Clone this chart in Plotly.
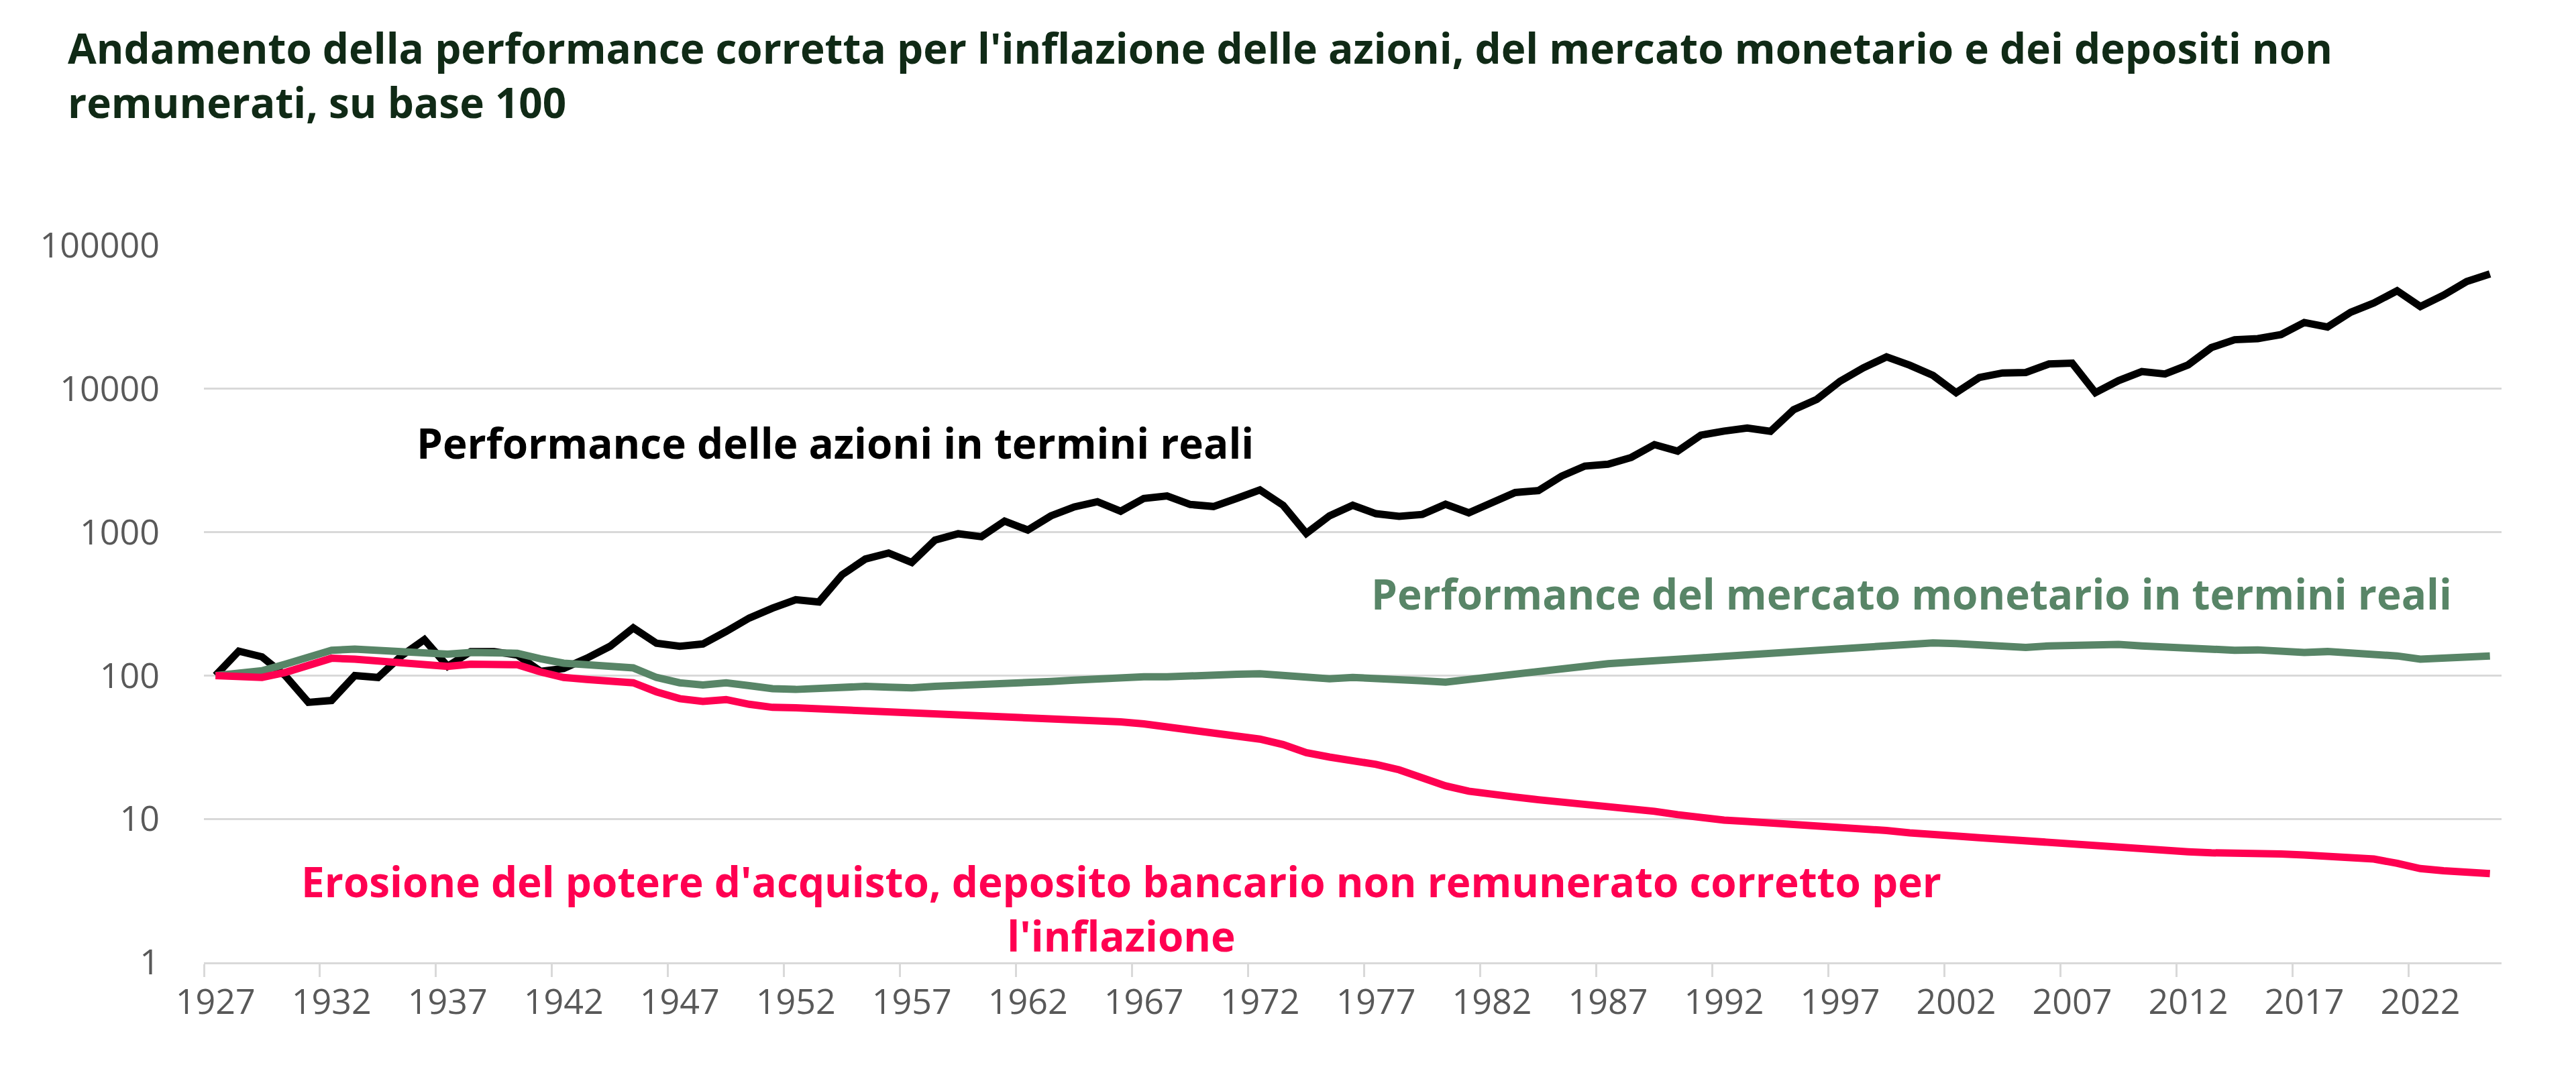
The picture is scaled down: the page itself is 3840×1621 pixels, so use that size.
import plotly.graph_objects as go

years = list(range(1927, 2026))

azioni = [100, 148, 135, 100, 65, 67, 100, 97, 137, 178,
          116, 147, 147, 139, 107, 112, 132, 160, 215, 168,
          160, 166, 203, 252, 295, 338, 326, 505, 650, 715,
          615, 880, 975, 930, 1195, 1035, 1300, 1500, 1630, 1400,
          1720, 1790, 1560, 1510, 1720, 1970, 1540, 980, 1300, 1540,
          1345, 1290, 1330, 1565, 1365, 1600, 1890, 1950, 2460, 2890,
          2980, 3320, 4080, 3670, 4750, 5070, 5330, 5050, 7150, 8450,
          11300, 14000, 16700, 14600, 12400, 9400, 12000, 12900, 13000, 14900,
          15100, 9400, 11400, 13200, 12700, 14700, 19400, 22000, 22400, 23900,
          29000, 27000, 34200, 39700, 48300, 37500, 45000, 56000, 63300]

monetario = [100, 104, 108, 120, 134, 150, 153, 151, 148, 145,
             141, 145, 146, 143, 131, 122, 119, 116, 113, 97,
             89, 86, 89, 85, 81, 80, 82, 83, 84, 83,
             82, 84, 85, 87, 88, 89, 91, 93, 95, 96,
             98, 98, 100, 101, 102, 103, 101, 97, 95, 97,
             96, 94, 92, 90, 94, 100, 103, 108, 113, 118,
             121, 124, 128, 131, 133, 136, 139, 142, 145, 149,
             153, 157, 161, 165, 169, 167, 164, 160, 157, 161,
             163, 167, 165, 161, 158, 155, 152, 150, 151, 148,
             145, 147, 145, 143, 137, 130, 131, 134, 137]

depositi = [100, 99, 97, 105, 118, 132, 130, 127, 125, 122,
            116, 120, 121, 119, 106, 97, 94, 92, 89, 77,
            69, 66, 68, 63, 60, 59.5, 58.5, 59, 57.5, 56,
            55, 54, 53, 52, 51.5, 51, 50.5, 50, 49, 47.5,
            46, 44, 42, 40, 38.5, 36, 33, 29, 27, 25.5,
            24, 22, 19.5, 17, 15.6, 14.7, 14.2, 13.6, 13.1, 12.8,
            12.5, 12, 11.3, 10.7, 10.2, 9.8, 9.6, 9.4, 9.1, 8.9,
            8.7, 8.5, 8.3, 8.0, 7.7, 7.6, 7.4, 7.2, 7.0, 6.8,
            6.6, 6.4, 6.4, 6.2, 6.0, 5.9, 5.8, 5.8, 5.75, 5.7,
            5.6, 5.45, 5.3, 5.25, 4.9, 4.5, 4.35, 4.25, 4.15]

x_tick_years = list(range(1927, 2026, 5))
x_tick_labels = [str(y) for y in x_tick_years]
y_tick_values = [1, 10, 100, 1000, 10000, 100000]
y_tick_labels = ["1", "10", "100", "1000", "10000", "100000"]

title_text = ("Andamento della performance corretta per l'inflazione delle azioni, del mercato monetario e dei depositi non"
              "<br>remunerati, su base 100")
label_azioni = "Performance delle azioni in termini reali"
label_monetario = "Performance del mercato monetario in termini reali"
label_depositi = "Erosione del potere d'acquisto, deposito bancario non remunerato corretto per<br>l'inflazione"

BLACK = "#000000"
GREEN = "#588567"
PINK = "#ff0051"
GRID = "#d9d9d9"
TITLE_COLOR = "#102a16"
FONT = "Open Sans"

W, H = 3840, 1621
L, R, T, B = 296, 119, 358, 194
PW, PH = W - L - R, H - T - B


def px_to_paper(px, py):
    return (px - L) / PW, (H - B - py) / PH


fig = go.Figure()
fig.add_trace(go.Scatter(x=years, y=azioni, mode="lines",
                         line=dict(color=BLACK, width=11), name=label_azioni))
fig.add_trace(go.Scatter(x=years, y=monetario, mode="lines",
                         line=dict(color=GREEN, width=11), name=label_monetario))
fig.add_trace(go.Scatter(x=years, y=depositi, mode="lines",
                         line=dict(color=PINK, width=11), name="Depositi"))

fig.update_layout(
    width=W, height=H,
    margin=dict(l=L, r=R, t=T, b=B, pad=0),
    paper_bgcolor="white", plot_bgcolor="white",
    showlegend=False,
    font=dict(family=FONT, color="#595959"),
)

fig.update_xaxes(
    range=[1926.5, 2025.5],
    tickmode="array", tickvals=x_tick_years, ticktext=x_tick_labels,
    ticks="", ticklabelstandoff=12,
    tickfont=dict(family=FONT, size=52, color="#595959"),
    showgrid=False, zeroline=False,
    showline=True, linecolor=GRID, linewidth=3,
    minor=dict(tickmode="linear", tick0=1926.5, dtick=5, ticks="outside",
               ticklen=19, tickwidth=3, tickcolor=GRID, showgrid=False),
)

fig.update_yaxes(
    type="log", range=[0, 5],
    tickmode="array", tickvals=y_tick_values, ticktext=y_tick_labels,
    ticks="", ticklabelstandoff=65,
    tickfont=dict(family=FONT, size=52, color="#595959"),
    showgrid=True, gridcolor=GRID, gridwidth=3,
    zeroline=False, showline=False,
)

xp, yp = px_to_paper(91, 103)
fig.add_annotation(text="<b>" + title_text + "</b>", xref="paper", yref="paper",
                   x=xp, y=yp, showarrow=False, xanchor="left", yanchor="middle",
                   align="left",
                   font=dict(family=FONT, size=62, color=TITLE_COLOR))

xp, yp = px_to_paper(1237, 652)
fig.add_annotation(text="<b>" + label_azioni + "</b>", xref="paper", yref="paper",
                   x=xp, y=yp, showarrow=False, xanchor="center", yanchor="middle",
                   font=dict(family=FONT, size=62, color=BLACK))
xp, yp = px_to_paper(2841, 877)
fig.add_annotation(text="<b>" + label_monetario + "</b>", xref="paper", yref="paper",
                   x=xp, y=yp, showarrow=False, xanchor="center", yanchor="middle",
                   font=dict(family=FONT, size=62, color=GREEN))
xp, yp = px_to_paper(1663, 1346)
fig.add_annotation(text="<b>" + label_depositi + "</b>", xref="paper", yref="paper",
                   x=xp, y=yp, showarrow=False, xanchor="center", yanchor="middle",
                   align="center",
                   font=dict(family=FONT, size=62, color=PINK))

fig.write_html("out.html")
